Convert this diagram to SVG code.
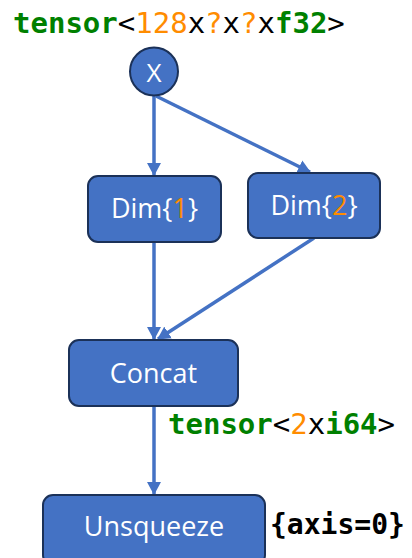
<svg xmlns="http://www.w3.org/2000/svg" width="412" height="558" viewBox="0 0 412 558">
<style>
.node{fill:#4472C4;stroke:#1B3158;stroke-width:2}
.nt{font-family:"Open Sans","Noto Sans",sans-serif;font-size:27px;fill:#fff;text-anchor:middle}
.mono{font-family:"DejaVu Sans Mono","Liberation Mono",monospace;font-size:29px;fill:#000}
.g{fill:#008000;font-weight:bold}
.o{fill:#FF8C00}
.b{font-weight:bold}
.conn{stroke:#4472C4;stroke-width:3.5;fill:none}
</style>
<defs>
<marker id="ah" markerUnits="userSpaceOnUse" markerWidth="14" markerHeight="14" refX="12" refY="7" orient="auto">
<path d="M0,0 L13,7 L0,14 z" fill="#4472C4"/>
</marker>
</defs>
<text class="mono" x="13" y="33"><tspan class="g">tensor</tspan>&lt;<tspan class="o">128</tspan>x<tspan class="o">?</tspan>x<tspan class="o">?</tspan>x<tspan class="g">f32</tspan>&gt;</text>
<g id="connectors">
<line class="conn" x1="154" y1="96" x2="154" y2="175" marker-end="url(#ah)"/>
<line class="conn" x1="156" y1="96" x2="310" y2="172" marker-end="url(#ah)"/>
<line class="conn" x1="154" y1="242" x2="154" y2="339" marker-end="url(#ah)"/>
<line class="conn" x1="314" y1="238" x2="158" y2="339" marker-end="url(#ah)"/>
<line class="conn" x1="154" y1="406" x2="154" y2="494" marker-end="url(#ah)"/>
</g>
<g id="X">
<circle class="node" cx="154" cy="71.5" r="24"/>
<text class="nt" x="154" y="82" style="font-size:26px">X</text>
</g>
<g id="Dim1">
<rect class="node" x="88" y="176" width="133" height="66" rx="10"/>
<text class="nt" x="154.5" y="218">Dim{<tspan class="o">1</tspan>}</text>
</g>
<g id="Dim2">
<rect class="node" x="248" y="173" width="132" height="65" rx="10"/>
<text class="nt" x="314" y="215">Dim{<tspan class="o">2</tspan>}</text>
</g>
<g id="Concat">
<rect class="node" x="69" y="340" width="169" height="66" rx="10"/>
<text class="nt" x="153.5" y="383">Concat</text>
</g>
<text class="mono" x="168" y="434"><tspan class="g">tensor</tspan>&lt;<tspan class="o">2</tspan>x<tspan class="g">i64</tspan>&gt;</text>
<g id="Unsqueeze">
<rect class="node" x="43" y="495" width="222" height="70" rx="10"/>
<text class="nt" x="154" y="536">Unsqueeze</text>
</g>
<text class="mono b" x="270" y="534" style="font-size:28px">{axis=0}</text>
</svg>
